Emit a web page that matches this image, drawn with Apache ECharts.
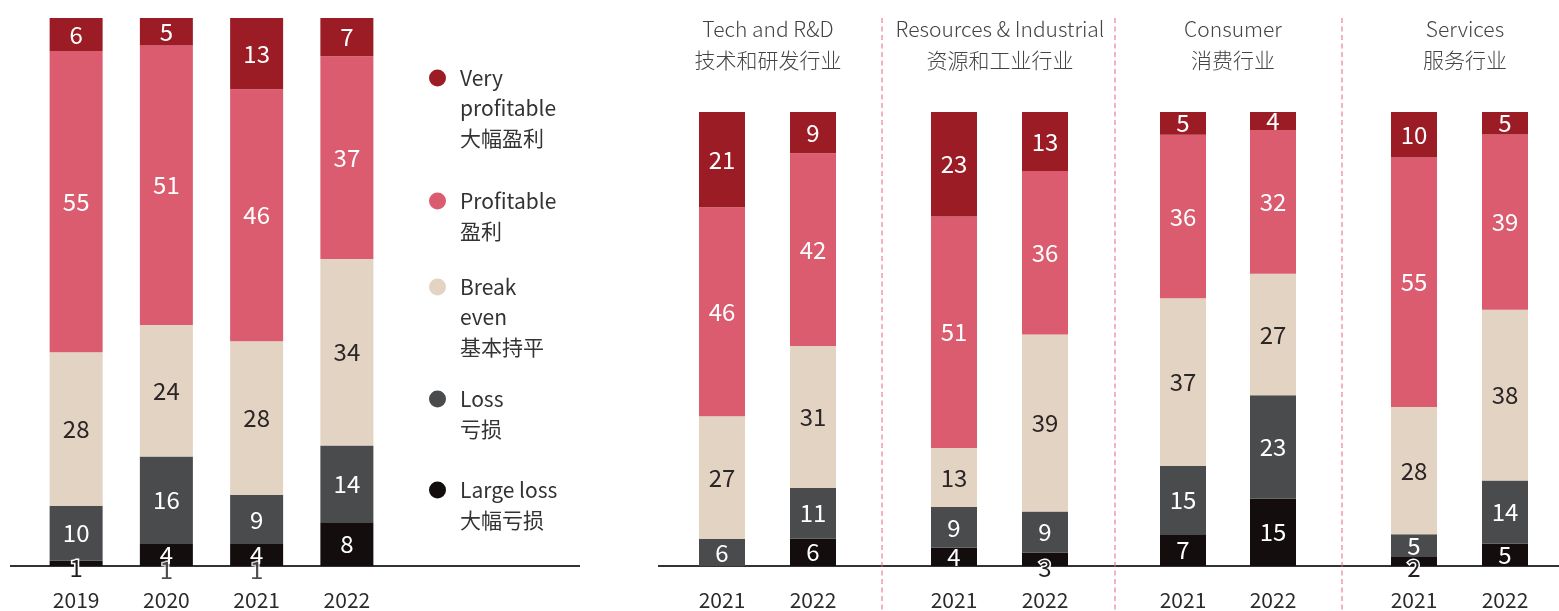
<!DOCTYPE html>
<html>
<head>
<meta charset="utf-8">
<script src="https://cdn.jsdelivr.net/npm/echarts@6/dist/echarts.min.js"></script>
<style>
  html, body { margin: 0; padding: 0; background: #fff; }
  #chart { width: 1559px; height: 611px; }
</style>
</head>
<body>
<div id="chart"></div>
<script>
// stacking order, bottom to top
var levelNames = ['Large loss', 'Loss', 'Break even', 'Profitable', 'Very profitable'];
var legendOrder = ['Very profitable', 'Profitable', 'Break even', 'Loss', 'Large loss'];
var legendLines = [
  ['Very', 'profitable', '大幅盈利'],
  ['Profitable', '盈利'],
  ['Break', 'even', '基本持平'],
  ['Loss', '亏损'],
  ['Large loss', '大幅亏损']
];

// left panel: all companies by year
var years = ['2019', '2020', '2021', '2022'];
var largeLoss = [1, 4, 4, 8];
var loss = [10, 16, 9, 14];
var breakEven = [28, 24, 28, 34];
var profitable = [55, 51, 46, 37];
var veryProfitable = [6, 5, 13, 7];
var baseNotes = [null, 1, 1, null];

// right panel: by sector, 2021 and 2022
var sectorYears = ['2021', '2022'];
var sectorEn = ['Tech and R&D', 'Resources & Industrial', 'Consumer', 'Services'];
var sectorCn = ['技术和研发行业', '资源和工业行业', '消费行业', '服务行业'];
var sectorLargeLoss = [[0, 6], [4, 3], [7, 15], [2, 5]];
var sectorLoss = [[6, 11], [9, 9], [15, 23], [5, 14]];
var sectorBreakEven = [[27, 31], [13, 39], [37, 27], [28, 38]];
var sectorProfitable = [[46, 42], [51, 36], [36, 32], [55, 39]];
var sectorVeryProfitable = [[21, 9], [23, 13], [5, 4], [10, 5]];

var colors = ['#130d0e', '#4a4b4d', '#e3d3c3', '#db5b6f', '#9c1c26'];
var font = "'Noto Sans CJK SC', 'Noto Sans', sans-serif";
var darkText = '#2b2526';

var grids = [
  {left: 31, width: 361, top: 18, bottom: 45},
  {left: 676.5, width: 182, top: 112, bottom: 45},
  {left: 908.5, width: 182, top: 112, bottom: 45},
  {left: 1138, width: 180, top: 112, bottom: 45},
  {left: 1368.5, width: 182, top: 112, bottom: 45}
];
var titleCenters = [768, 1000, 1233, 1465];
var legendIconY = [78, 201, 287, 399, 490];

var xAxes = [], yAxes = [], series = [];

function addPanel(gi, cats, levels, barWidth) {
  xAxes.push({
    type: 'category', gridIndex: gi, data: cats,
    axisLine: {show: false}, axisTick: {show: false},
    axisLabel: {margin: 24, fontSize: 21, color: '#2a2a2a', fontFamily: font}
  });
  yAxes.push({type: 'value', gridIndex: gi, min: 0, max: 100, show: false});
  var totals = cats.map(function (c, i) {
    return levels.reduce(function (s, arr) { return s + arr[i]; }, 0);
  });
  levels.forEach(function (arr, k) {
    series.push({
      name: levelNames[k],
      type: 'bar',
      stack: 'p' + gi,
      xAxisIndex: gi, yAxisIndex: gi,
      barWidth: barWidth,
      itemStyle: {color: colors[k]},
      label: {
        show: true, position: 'inside',
        color: k === 2 ? darkText : '#fff',
        fontSize: 24, fontFamily: font,
        formatter: function (p) { return p.data.raw ? String(p.data.raw) : ''; }
      },
      data: arr.map(function (v, i) {
        var item = {value: v / totals[i] * 100, raw: v};
        if (k === 0 && v > 0 && v <= 3) {
          item.label = {position: 'bottom', distance: -10, color: '#231f20',
            textBorderColor: '#fff', textBorderWidth: 3};
        }
        return item;
      })
    });
  });
}

addPanel(0, years, [largeLoss, loss, breakEven, profitable, veryProfitable], 53);
for (var s = 0; s < sectorEn.length; s++) {
  addPanel(s + 1, sectorYears, [sectorLargeLoss[s], sectorLoss[s], sectorBreakEven[s],
    sectorProfitable[s], sectorVeryProfitable[s]], 46);
}

// stray base labels under the left bars
series.push({
  type: 'scatter', xAxisIndex: 0, yAxisIndex: 0, symbolSize: 0, clip: false, z: 5,
  label: {
    show: true, position: 'inside', offset: [0, 4],
    fontSize: 24, fontFamily: font, color: '#231f20',
    textBorderColor: '#fff', textBorderWidth: 3,
    formatter: function (p) { return String(p.data.note); }
  },
  data: baseNotes.map(function (n) { return n == null ? '-' : {value: 0, note: n}; })
});

// leading blank lines keep the dot level with the first line of text
var legends = legendOrder.map(function (name, i) {
  var n = legendLines[i].length;
  var blanks = new Array(n).join('\n');
  return {
    data: [name], orient: 'vertical', left: 429,
    top: legendIconY[i] - (2 * n - 1) * 15,
    padding: 0, itemWidth: 17, itemHeight: 17, icon: 'circle', selectedMode: false,
    formatter: function () { return blanks + legendLines[i].join('\n'); },
    textStyle: {fontSize: 21, lineHeight: 30, color: '#333', fontFamily: font,
      padding: [0, 0, 0, 9]}
  };
});

var titles = sectorEn.map(function (t, i) {
  return {
    text: t + '\n' + sectorCn[i], left: titleCenters[i], top: 14, padding: 0,
    textAlign: 'center',
    textStyle: {fontSize: 21, fontWeight: 300, lineHeight: 31, color: '#444', fontFamily: font}
  };
});

var graphics = [
  {type: 'line', z: 1, shape: {x1: 10, y1: 566, x2: 580, y2: 566}, style: {stroke: '#333', lineWidth: 2}},
  {type: 'line', z: 1, shape: {x1: 658, y1: 566, x2: 1559, y2: 566}, style: {stroke: '#333', lineWidth: 2}}
];
[882, 1115, 1342].forEach(function (x) {
  graphics.push({type: 'line', z: 1, shape: {x1: x, y1: 18, x2: x, y2: 611},
    style: {stroke: '#e4667c', lineWidth: 1, lineDash: [5, 3.5]}});
});

var chart = echarts.init(document.getElementById('chart'));
chart.setOption({
  animation: false,
  textStyle: {fontFamily: font},
  title: titles,
  legend: legends,
  grid: grids,
  xAxis: xAxes,
  yAxis: yAxes,
  graphic: graphics,
  series: series
});
</script>
</body>
</html>
